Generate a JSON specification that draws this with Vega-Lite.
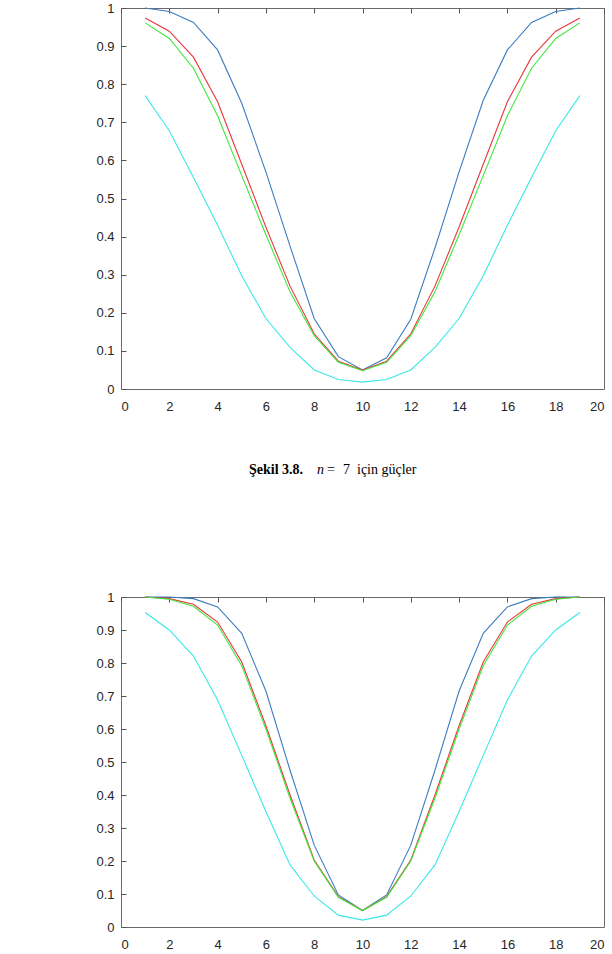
{
  "$schema": "https://vega.github.io/schema/vega-lite/v6.json",
  "padding": {"top": 1, "left": 90, "right": 9, "bottom": 0},
  "background": "white",
  "spacing": 0,
  "config": {
    "view": {"stroke": "#6b6b6b", "strokeWidth": 1},
    "axis": {
      "labelFont": "Liberation Sans",
      "labelFontSize": 13,
      "labelColor": "#262626",
      "ticks": false,
      "grid": true,
      "gridColor": "#555555",
      "gridWidth": 1,
      "gridOpacity": 1,
      "gridDash": [5, 2000],
      "zindex": 1,
      "domain": false,
      "title": null
    }
  },
  "datasets": {
    "top": [
      {"x": 1, "a": 1.0, "b": 0.974, "c": 0.961, "d": 0.77},
      {"x": 2, "a": 0.991, "b": 0.939, "c": 0.92, "d": 0.678},
      {"x": 3, "a": 0.962, "b": 0.871, "c": 0.842, "d": 0.555},
      {"x": 4, "a": 0.89, "b": 0.754, "c": 0.717, "d": 0.43},
      {"x": 5, "a": 0.75, "b": 0.59, "c": 0.56, "d": 0.297},
      {"x": 6, "a": 0.57, "b": 0.425, "c": 0.405, "d": 0.185},
      {"x": 7, "a": 0.375, "b": 0.27, "c": 0.255, "d": 0.109},
      {"x": 8, "a": 0.185, "b": 0.145, "c": 0.14, "d": 0.05},
      {"x": 9, "a": 0.085, "b": 0.073, "c": 0.07, "d": 0.025},
      {"x": 10, "a": 0.05, "b": 0.05, "c": 0.048, "d": 0.018},
      {"x": 11, "a": 0.082, "b": 0.073, "c": 0.07, "d": 0.025},
      {"x": 12, "a": 0.183, "b": 0.145, "c": 0.14, "d": 0.05},
      {"x": 13, "a": 0.37, "b": 0.27, "c": 0.255, "d": 0.109},
      {"x": 14, "a": 0.57, "b": 0.425, "c": 0.405, "d": 0.185},
      {"x": 15, "a": 0.758, "b": 0.59, "c": 0.56, "d": 0.297},
      {"x": 16, "a": 0.89, "b": 0.754, "c": 0.717, "d": 0.43},
      {"x": 17, "a": 0.962, "b": 0.871, "c": 0.842, "d": 0.555},
      {"x": 18, "a": 0.991, "b": 0.939, "c": 0.92, "d": 0.678},
      {"x": 19, "a": 1.0, "b": 0.974, "c": 0.961, "d": 0.77}
    ],
    "bottom": [
      {"x": 1, "a": 1.0, "b": 1.0, "c": 1.0, "d": 0.953},
      {"x": 2, "a": 1.0, "b": 0.995, "c": 0.993, "d": 0.9},
      {"x": 3, "a": 0.995, "b": 0.978, "c": 0.972, "d": 0.821},
      {"x": 4, "a": 0.97, "b": 0.924, "c": 0.915, "d": 0.688},
      {"x": 5, "a": 0.89, "b": 0.803, "c": 0.792, "d": 0.52},
      {"x": 6, "a": 0.715, "b": 0.61, "c": 0.6, "d": 0.35},
      {"x": 7, "a": 0.475, "b": 0.4, "c": 0.39, "d": 0.188},
      {"x": 8, "a": 0.248, "b": 0.203, "c": 0.2, "d": 0.094},
      {"x": 9, "a": 0.097, "b": 0.092, "c": 0.09, "d": 0.036},
      {"x": 10, "a": 0.05, "b": 0.05, "c": 0.05, "d": 0.021},
      {"x": 11, "a": 0.097, "b": 0.092, "c": 0.09, "d": 0.036},
      {"x": 12, "a": 0.248, "b": 0.203, "c": 0.2, "d": 0.094},
      {"x": 13, "a": 0.475, "b": 0.4, "c": 0.39, "d": 0.188},
      {"x": 14, "a": 0.715, "b": 0.61, "c": 0.6, "d": 0.35},
      {"x": 15, "a": 0.89, "b": 0.803, "c": 0.792, "d": 0.52},
      {"x": 16, "a": 0.97, "b": 0.924, "c": 0.915, "d": 0.688},
      {"x": 17, "a": 0.995, "b": 0.978, "c": 0.972, "d": 0.821},
      {"x": 18, "a": 1.0, "b": 0.995, "c": 0.993, "d": 0.9},
      {"x": 19, "a": 1.0, "b": 1.0, "c": 1.0, "d": 0.953}
    ]
  },
  "vconcat": [
    {
      "width": 483,
      "height": 381,
      "data": {"name": "top"},
      "transform": [{"fold": ["a", "b", "c", "d"], "as": ["s", "y"]}],
      "layer": [
        {
          "mark": {"type": "line", "strokeWidth": 1.1},
          "encoding": {
            "x": {"field": "x", "type": "quantitative", "scale": {"domain": [0, 20], "nice": false},
                  "axis": {"orient": "bottom", "values": [0, 2, 4, 6, 8, 10, 12, 14, 16, 18, 20], "labelPadding": 11, "minExtent": 25, "maxExtent": 25}},
            "y": {"field": "y", "type": "quantitative", "scale": {"domain": [0, 1], "nice": false},
                  "axis": {"orient": "left", "values": [0, 0.1, 0.2, 0.3, 0.4, 0.5, 0.6, 0.7, 0.8, 0.9, 1], "format": ".1~f", "labelPadding": 7, "minExtent": 30, "maxExtent": 30}},
            "color": {"field": "s", "type": "nominal", "scale": {"domain": ["a", "b", "c", "d"], "range": ["#3d7cc0", "#e8373a", "#3de83d", "#3ae8e8"]}, "legend": null}
          }
        },
        {
          "mark": {"type": "line", "opacity": 0},
          "encoding": {
            "x": {"field": "x", "type": "quantitative", "axis": {"orient": "top", "values": [0, 2, 4, 6, 8, 10, 12, 14, 16, 18, 20], "labels": false, "minExtent": 0, "maxExtent": 0}},
            "y": {"field": "y", "type": "quantitative", "axis": {"orient": "right", "values": [0, 0.1, 0.2, 0.3, 0.4, 0.5, 0.6, 0.7, 0.8, 0.9, 1], "labels": false, "minExtent": 0, "maxExtent": 0}},
            "detail": {"field": "s"}
          }
        }
      ],
      "resolve": {"axis": {"x": "independent", "y": "independent"}}
    },
    {
      "width": 483,
      "height": 175,
      "view": {"stroke": null},
      "layer": [
        {"data": {"values": [{"t": "Şekil 3.8."}]}, "mark": {"type": "text", "font": "Liberation Serif", "fontSize": 14, "fontWeight": "bold", "align": "left", "baseline": "alphabetic", "dx": -113.5, "dy": -29, "color": "black"}, "encoding": {"text": {"field": "t"}}},
        {"data": {"values": [{"t": "n"}]}, "mark": {"type": "text", "font": "Liberation Serif", "fontSize": 14, "fontStyle": "italic", "align": "left", "baseline": "alphabetic", "dx": -45.5, "dy": -29, "color": "black"}, "encoding": {"text": {"field": "t"}}},
        {"data": {"values": [{"t": "="}]}, "mark": {"type": "text", "font": "Liberation Serif", "fontSize": 14, "align": "left", "baseline": "alphabetic", "dx": -35.5, "dy": -29, "color": "black"}, "encoding": {"text": {"field": "t"}}},
        {"data": {"values": [{"t": "7"}]}, "mark": {"type": "text", "font": "Liberation Serif", "fontSize": 14, "align": "left", "baseline": "alphabetic", "dx": -19.5, "dy": -29, "color": "black"}, "encoding": {"text": {"field": "t"}}},
        {"data": {"values": [{"t": "için güçler"}]}, "mark": {"type": "text", "font": "Liberation Serif", "fontSize": 14, "align": "left", "baseline": "alphabetic", "dx": -5.5, "dy": -29, "color": "black"}, "encoding": {"text": {"field": "t"}}}
      ]
    },
    {
      "width": 483,
      "height": 330,
      "data": {"name": "bottom"},
      "transform": [{"fold": ["a", "b", "c", "d"], "as": ["s", "y"]}],
      "layer": [
        {
          "mark": {"type": "line", "strokeWidth": 1.1},
          "encoding": {
            "x": {"field": "x", "type": "quantitative", "scale": {"domain": [0, 20], "nice": false},
                  "axis": {"orient": "bottom", "values": [0, 2, 4, 6, 8, 10, 12, 14, 16, 18, 20], "labelPadding": 11, "minExtent": 25, "maxExtent": 25}},
            "y": {"field": "y", "type": "quantitative", "scale": {"domain": [0, 1], "nice": false},
                  "axis": {"orient": "left", "values": [0, 0.1, 0.2, 0.3, 0.4, 0.5, 0.6, 0.7, 0.8, 0.9, 1], "format": ".1~f", "labelPadding": 7, "minExtent": 30, "maxExtent": 30}},
            "color": {"field": "s", "type": "nominal", "scale": {"domain": ["a", "b", "c", "d"], "range": ["#3d7cc0", "#e8373a", "#3de83d", "#3ae8e8"]}, "legend": null}
          }
        },
        {
          "mark": {"type": "line", "opacity": 0},
          "encoding": {
            "x": {"field": "x", "type": "quantitative", "axis": {"orient": "top", "values": [0, 2, 4, 6, 8, 10, 12, 14, 16, 18, 20], "labels": false, "minExtent": 0, "maxExtent": 0}},
            "y": {"field": "y", "type": "quantitative", "axis": {"orient": "right", "values": [0, 0.1, 0.2, 0.3, 0.4, 0.5, 0.6, 0.7, 0.8, 0.9, 1], "labels": false, "minExtent": 0, "maxExtent": 0}},
            "detail": {"field": "s"}
          }
        }
      ],
      "resolve": {"axis": {"x": "independent", "y": "independent"}}
    }
  ]
}
